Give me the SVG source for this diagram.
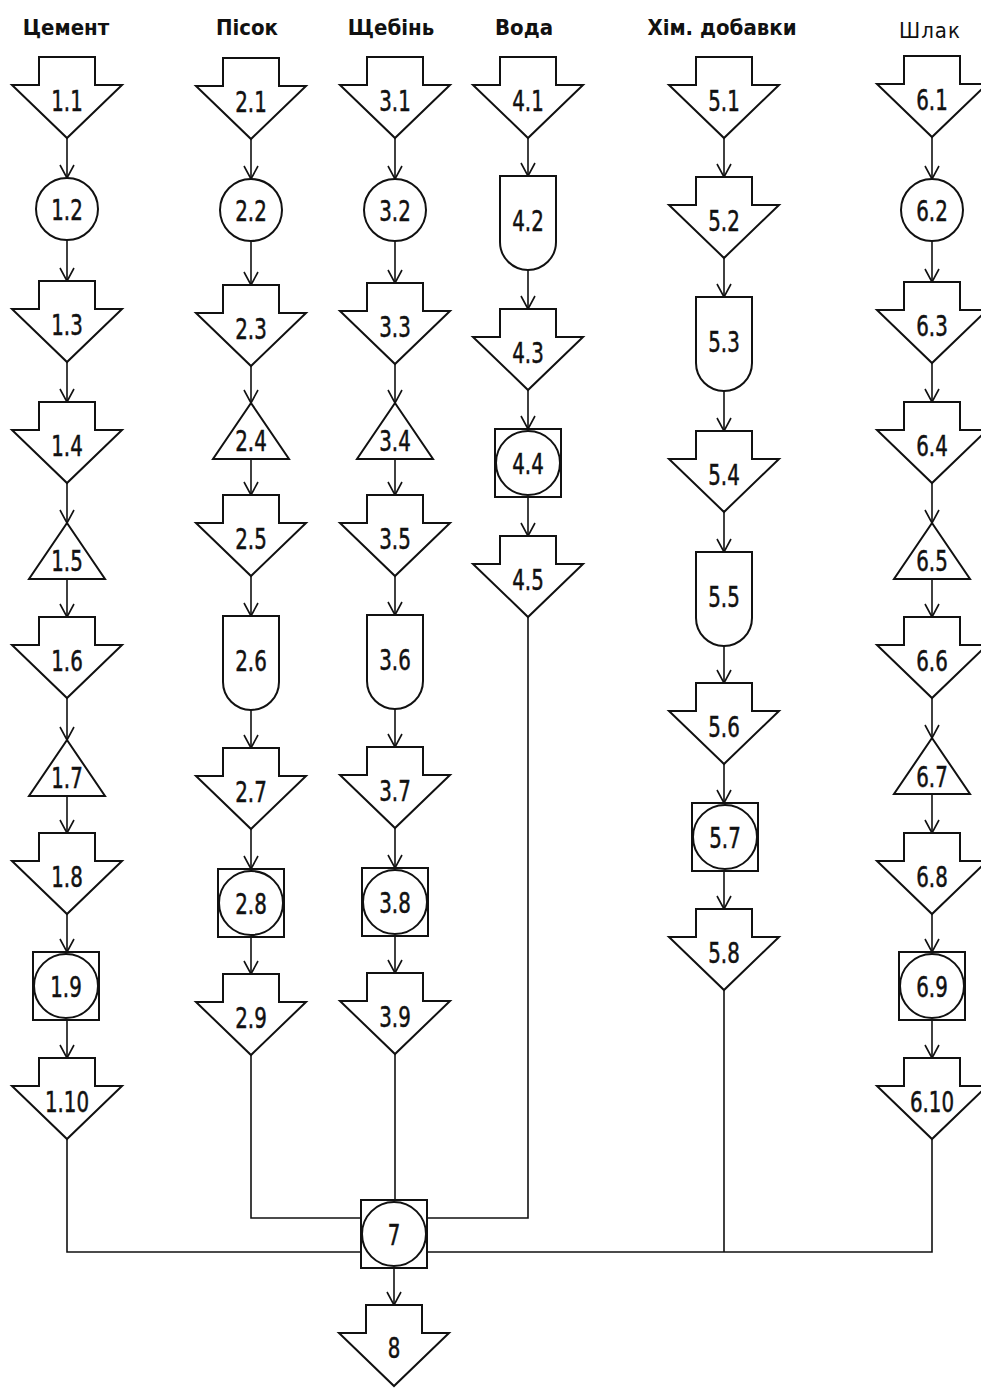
<svg xmlns="http://www.w3.org/2000/svg" xmlns:xlink="http://www.w3.org/1999/xlink" width="981" height="1388" viewBox="0 0 981 1388">
<style>
.s{fill:#fff;stroke:#111;stroke-width:2}
.c{fill:none;stroke:#111;stroke-width:1.6}
.lbl{font-family:"DejaVu Sans Condensed","DejaVu Sans",sans-serif;font-stretch:condensed;font-size:29px;fill:#111;stroke:#111;stroke-width:0.5;text-anchor:middle;transform-box:fill-box;transform-origin:center;transform:scaleX(0.76)}
.hdr{font-family:"DejaVu Sans Condensed","DejaVu Sans",sans-serif;font-stretch:condensed;font-weight:bold;font-size:22px;fill:#111;text-anchor:middle}
</style>
<defs>
<path id="arr" class="s" d="M-28,0 H28 V28 H55 L0,81 L-55,28 H-28 Z"/>
<circle id="circ" class="s" r="31"/>
<path id="tri" class="s" d="M0,0 L38,56 H-38 Z"/>
<path id="dsh" class="s" d="M-28,0 H28 V66 A28,28 0 0 1 -28,66 Z"/>
<g id="sqc"><rect class="s" x="-33" y="-34" width="66" height="68"/><circle class="s" r="32"/></g>
<marker id="ah" markerUnits="userSpaceOnUse" markerWidth="20" markerHeight="20" viewBox="-10 -15 20 20" refX="0" refY="0" orient="auto-start-reverse" overflow="visible">
<path d="M-13,-7 L0,0 L-13,7" fill="none" stroke="#111" stroke-width="1.6"/>
</marker>
</defs>

<g id="headers">
<text class="hdr" x="66" y="35">Цемент</text>
<text class="hdr" x="247" y="35">Пісок</text>
<text class="hdr" x="391" y="35">Щебінь</text>
<text class="hdr" x="524" y="35">Вода</text>
<text class="hdr" x="722" y="35">Хім. добавки</text>
<text class="hdr" x="930" y="38" style="font-weight:normal;letter-spacing:1px">Шлак</text>
</g>

<g id="connectors">
<g marker-end="url(#ah)" class="c">
<path d="M67,138 V178"/><path d="M67,240 V281"/><path d="M67,362 V402"/><path d="M67,483 V523"/><path d="M67,579 V617"/><path d="M67,698 V740"/><path d="M67,796 V833"/><path d="M67,914 V952"/><path d="M67,1020 V1058"/>
<path d="M251,139 V179"/><path d="M251,241 V285"/><path d="M251,366 V403"/><path d="M251,459 V495"/><path d="M251,576 V616"/><path d="M251,710 V748"/><path d="M251,829 V869"/><path d="M251,937 V974"/>
<path d="M395,138 V179"/><path d="M395,241 V283"/><path d="M395,364 V403"/><path d="M395,459 V495"/><path d="M395,576 V615"/><path d="M395,709 V747"/><path d="M395,828 V868"/><path d="M395,936 V973"/>
<path d="M528,138 V176"/><path d="M528,270 V309"/><path d="M528,390 V429"/><path d="M528,497 V536"/>
<path d="M724,138 V177"/><path d="M724,258 V297"/><path d="M724,391 V431"/><path d="M724,512 V552"/><path d="M724,646 V683"/><path d="M724,764 V803"/><path d="M724,871 V909"/>
<path d="M932,137 V179"/><path d="M932,241 V282"/><path d="M932,363 V402"/><path d="M932,483 V523"/><path d="M932,579 V617"/><path d="M932,698 V738"/><path d="M932,795 V833"/><path d="M932,914 V952"/><path d="M932,1020 V1058"/>
<path d="M394,1268 V1305"/>
</g>
<g class="c">
<path d="M67,1139 V1252 H361"/>
<path d="M427,1252 H932 V1139"/>
<path d="M724,990 V1252"/>
<path d="M251,1055 V1218 H361"/>
<path d="M528,617 V1218 H427"/>
<path d="M395,1054 V1200"/>
</g>
</g>

<g id="n1_1"><use href="#arr" x="67" y="57"/><text class="lbl" x="67" y="111">1.1</text></g>
<g id="n1_2"><use href="#circ" x="67" y="209"/><text class="lbl" x="67" y="220">1.2</text></g>
<g id="n1_3"><use href="#arr" x="67" y="281"/><text class="lbl" x="67" y="335">1.3</text></g>
<g id="n1_4"><use href="#arr" x="67" y="402"/><text class="lbl" x="67" y="456">1.4</text></g>
<g id="n1_5"><use href="#tri" x="67" y="523"/><text class="lbl" x="67" y="571">1.5</text></g>
<g id="n1_6"><use href="#arr" x="67" y="617"/><text class="lbl" x="67" y="671">1.6</text></g>
<g id="n1_7"><use href="#tri" x="67" y="740"/><text class="lbl" x="67" y="788">1.7</text></g>
<g id="n1_8"><use href="#arr" x="67" y="833"/><text class="lbl" x="67" y="887">1.8</text></g>
<g id="n1_9"><use href="#sqc" x="66" y="986"/><text class="lbl" x="66" y="997">1.9</text></g>
<g id="n1_10"><use href="#arr" x="67" y="1058"/><text class="lbl" x="67" y="1112">1.10</text></g>

<g id="n2_1"><use href="#arr" x="251" y="58"/><text class="lbl" x="251" y="112">2.1</text></g>
<g id="n2_2"><use href="#circ" x="251" y="210"/><text class="lbl" x="251" y="221">2.2</text></g>
<g id="n2_3"><use href="#arr" x="251" y="285"/><text class="lbl" x="251" y="339">2.3</text></g>
<g id="n2_4"><use href="#tri" x="251" y="403"/><text class="lbl" x="251" y="451">2.4</text></g>
<g id="n2_5"><use href="#arr" x="251" y="495"/><text class="lbl" x="251" y="549">2.5</text></g>
<g id="n2_6"><use href="#dsh" x="251" y="616"/><text class="lbl" x="251" y="671">2.6</text></g>
<g id="n2_7"><use href="#arr" x="251" y="748"/><text class="lbl" x="251" y="802">2.7</text></g>
<g id="n2_8"><use href="#sqc" x="251" y="903"/><text class="lbl" x="251" y="914">2.8</text></g>
<g id="n2_9"><use href="#arr" x="251" y="974"/><text class="lbl" x="251" y="1028">2.9</text></g>

<g id="n3_1"><use href="#arr" x="395" y="57"/><text class="lbl" x="395" y="111">3.1</text></g>
<g id="n3_2"><use href="#circ" x="395" y="210"/><text class="lbl" x="395" y="221">3.2</text></g>
<g id="n3_3"><use href="#arr" x="395" y="283"/><text class="lbl" x="395" y="337">3.3</text></g>
<g id="n3_4"><use href="#tri" x="395" y="403"/><text class="lbl" x="395" y="451">3.4</text></g>
<g id="n3_5"><use href="#arr" x="395" y="495"/><text class="lbl" x="395" y="549">3.5</text></g>
<g id="n3_6"><use href="#dsh" x="395" y="615"/><text class="lbl" x="395" y="670">3.6</text></g>
<g id="n3_7"><use href="#arr" x="395" y="747"/><text class="lbl" x="395" y="801">3.7</text></g>
<g id="n3_8"><use href="#sqc" x="395" y="902"/><text class="lbl" x="395" y="913">3.8</text></g>
<g id="n3_9"><use href="#arr" x="395" y="973"/><text class="lbl" x="395" y="1027">3.9</text></g>

<g id="n4_1"><use href="#arr" x="528" y="57"/><text class="lbl" x="528" y="111">4.1</text></g>
<g id="n4_2"><use href="#dsh" x="528" y="176"/><text class="lbl" x="528" y="231">4.2</text></g>
<g id="n4_3"><use href="#arr" x="528" y="309"/><text class="lbl" x="528" y="363">4.3</text></g>
<g id="n4_4"><use href="#sqc" x="528" y="463"/><text class="lbl" x="528" y="474">4.4</text></g>
<g id="n4_5"><use href="#arr" x="528" y="536"/><text class="lbl" x="528" y="590">4.5</text></g>

<g id="n5_1"><use href="#arr" x="724" y="57"/><text class="lbl" x="724" y="111">5.1</text></g>
<g id="n5_2"><use href="#arr" x="724" y="177"/><text class="lbl" x="724" y="231">5.2</text></g>
<g id="n5_3"><use href="#dsh" x="724" y="297"/><text class="lbl" x="724" y="352">5.3</text></g>
<g id="n5_4"><use href="#arr" x="724" y="431"/><text class="lbl" x="724" y="485">5.4</text></g>
<g id="n5_5"><use href="#dsh" x="724" y="552"/><text class="lbl" x="724" y="607">5.5</text></g>
<g id="n5_6"><use href="#arr" x="724" y="683"/><text class="lbl" x="724" y="737">5.6</text></g>
<g id="n5_7"><use href="#sqc" x="725" y="837"/><text class="lbl" x="725" y="848">5.7</text></g>
<g id="n5_8"><use href="#arr" x="724" y="909"/><text class="lbl" x="724" y="963">5.8</text></g>

<g id="n6_1"><use href="#arr" x="932" y="56"/><text class="lbl" x="932" y="110">6.1</text></g>
<g id="n6_2"><use href="#circ" x="932" y="210"/><text class="lbl" x="932" y="221">6.2</text></g>
<g id="n6_3"><use href="#arr" x="932" y="282"/><text class="lbl" x="932" y="336">6.3</text></g>
<g id="n6_4"><use href="#arr" x="932" y="402"/><text class="lbl" x="932" y="456">6.4</text></g>
<g id="n6_5"><use href="#tri" x="932" y="523"/><text class="lbl" x="932" y="571">6.5</text></g>
<g id="n6_6"><use href="#arr" x="932" y="617"/><text class="lbl" x="932" y="671">6.6</text></g>
<g id="n6_7"><use href="#tri" x="932" y="738"/><text class="lbl" x="932" y="787">6.7</text></g>
<g id="n6_8"><use href="#arr" x="932" y="833"/><text class="lbl" x="932" y="887">6.8</text></g>
<g id="n6_9"><use href="#sqc" x="932" y="986"/><text class="lbl" x="932" y="997">6.9</text></g>
<g id="n6_10"><use href="#arr" x="932" y="1058"/><text class="lbl" x="932" y="1112">6.10</text></g>

<g id="n7"><use href="#sqc" x="394" y="1234"/><text class="lbl" x="394" y="1245">7</text></g>
<g id="n8"><use href="#arr" x="394" y="1305"/><text class="lbl" x="394" y="1358">8</text></g>
</svg>
